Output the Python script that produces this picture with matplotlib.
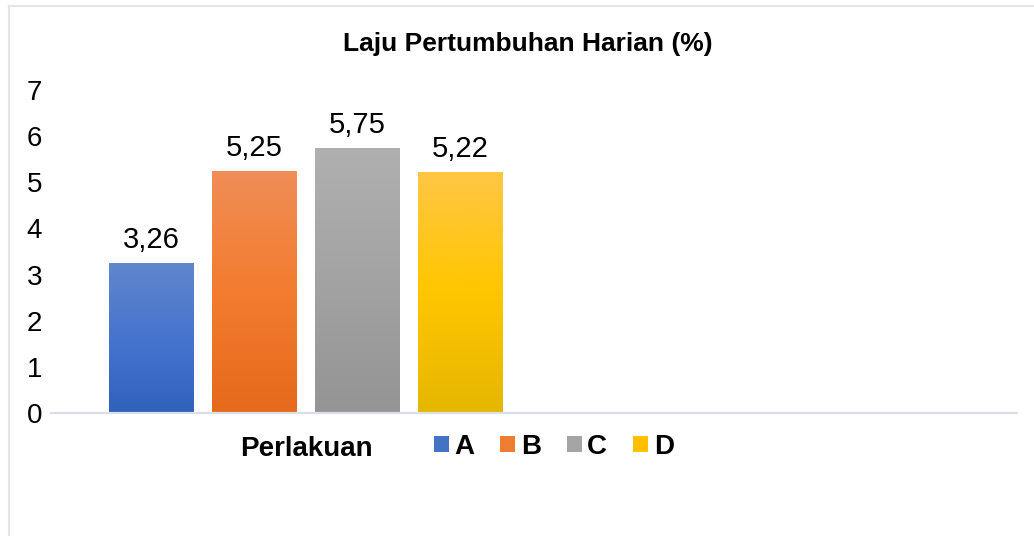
import numpy as np
import matplotlib.pyplot as plt
from matplotlib.colors import LinearSegmentedColormap
from matplotlib.lines import Line2D
from matplotlib.patches import Patch

plt.rcParams['font.family'] = ['Liberation Sans', 'DejaVu Sans']

# data
categories = ['A', 'B', 'C', 'D']
values = [3.26, 5.25, 5.75, 5.22]
title = 'Laju Pertumbuhan Harian (%)'
legend_title = 'Perlakuan'
yticks = [0, 1, 2, 3, 4, 5, 6, 7]

# gradient colours per bar: top, middle, bottom
grad_colors = [
    ['#6187CC', '#4675CF', '#2F61BD'],
    ['#F08D58', '#F37C2E', '#E56A1B'],
    ['#B0B0B0', '#A3A3A3', '#949494'],
    ['#FFC645', '#FFC600', '#E5B700'],
]
legend_colors = ['#4472C4', '#ED7D31', '#A5A5A5', '#FFC000']

W, H = 1034, 536
fig = plt.figure(figsize=(W / 100, H / 100), dpi=100)
ax = fig.add_axes([51 / W, (H - 413) / H, 966 / W, 323 / H])

bw = 0.816
grad = np.linspace(0, 1, 256).reshape(-1, 1)
for i, (v, cols) in enumerate(zip(values, grad_colors)):
    bar = ax.bar(i, v, width=bw, color='none', edgecolor='none')[0]
    cmap = LinearSegmentedColormap.from_list('g%d' % i, cols[::-1])
    im = ax.imshow(grad, cmap=cmap, aspect='auto', origin='lower',
                   extent=[i - bw / 2, i + bw / 2, 0, v], zorder=2)
    im.set_clip_path(bar)
    ax.annotate(f"{v:.2f}".replace('.', ','), xy=(i, v), xytext=(0, 10.8),
                textcoords='offset points', ha='center', va='baseline',
                fontsize=21, color='#000000')

ax.set_xlim(-0.971, 8.408)
ax.set_ylim(0, 7)
ax.set_yticks(yticks)
ax.set_xticks([])
ax.tick_params(axis='y', length=0, pad=6.5, labelsize=20, labelcolor='#000000')
for s in ['top', 'right', 'left']:
    ax.spines[s].set_visible(False)
ax.spines['bottom'].set_color('#DADFE6')
ax.spines['bottom'].set_linewidth(1.6)
ax.spines['bottom'].set_zorder(3)

# title and legend
fig.text(528 / W, 1 - 51 / H, title, ha='center', va='baseline',
         fontsize=19, fontweight='bold')
fig.text(240 / W, 1 - 456 / H, legend_title, ha='left', va='baseline',
         fontsize=20, fontweight='bold')
handles = [Patch(facecolor=c, edgecolor='none') for c in legend_colors]
fig.legend(handles, categories, loc='center left',
           bbox_to_anchor=(434 / W, 1 - 447 / H), ncol=4, frameon=False,
           prop={'weight': 'bold', 'size': 20}, handlelength=0.54,
           handleheight=0.54, handletextpad=0.2, columnspacing=0.93,
           borderpad=0, borderaxespad=0)

# chart border (only left and top visible)
fig.add_artist(Line2D([9 / W, 9 / W], [0, 1 - 6 / H], transform=fig.transFigure,
                      color='#E1E4E9', lw=1.5))
fig.add_artist(Line2D([9 / W, 1], [1 - 6 / H, 1 - 6 / H], transform=fig.transFigure,
                      color='#E1E4E9', lw=1.5))

fig.savefig('out.png', dpi=100)
